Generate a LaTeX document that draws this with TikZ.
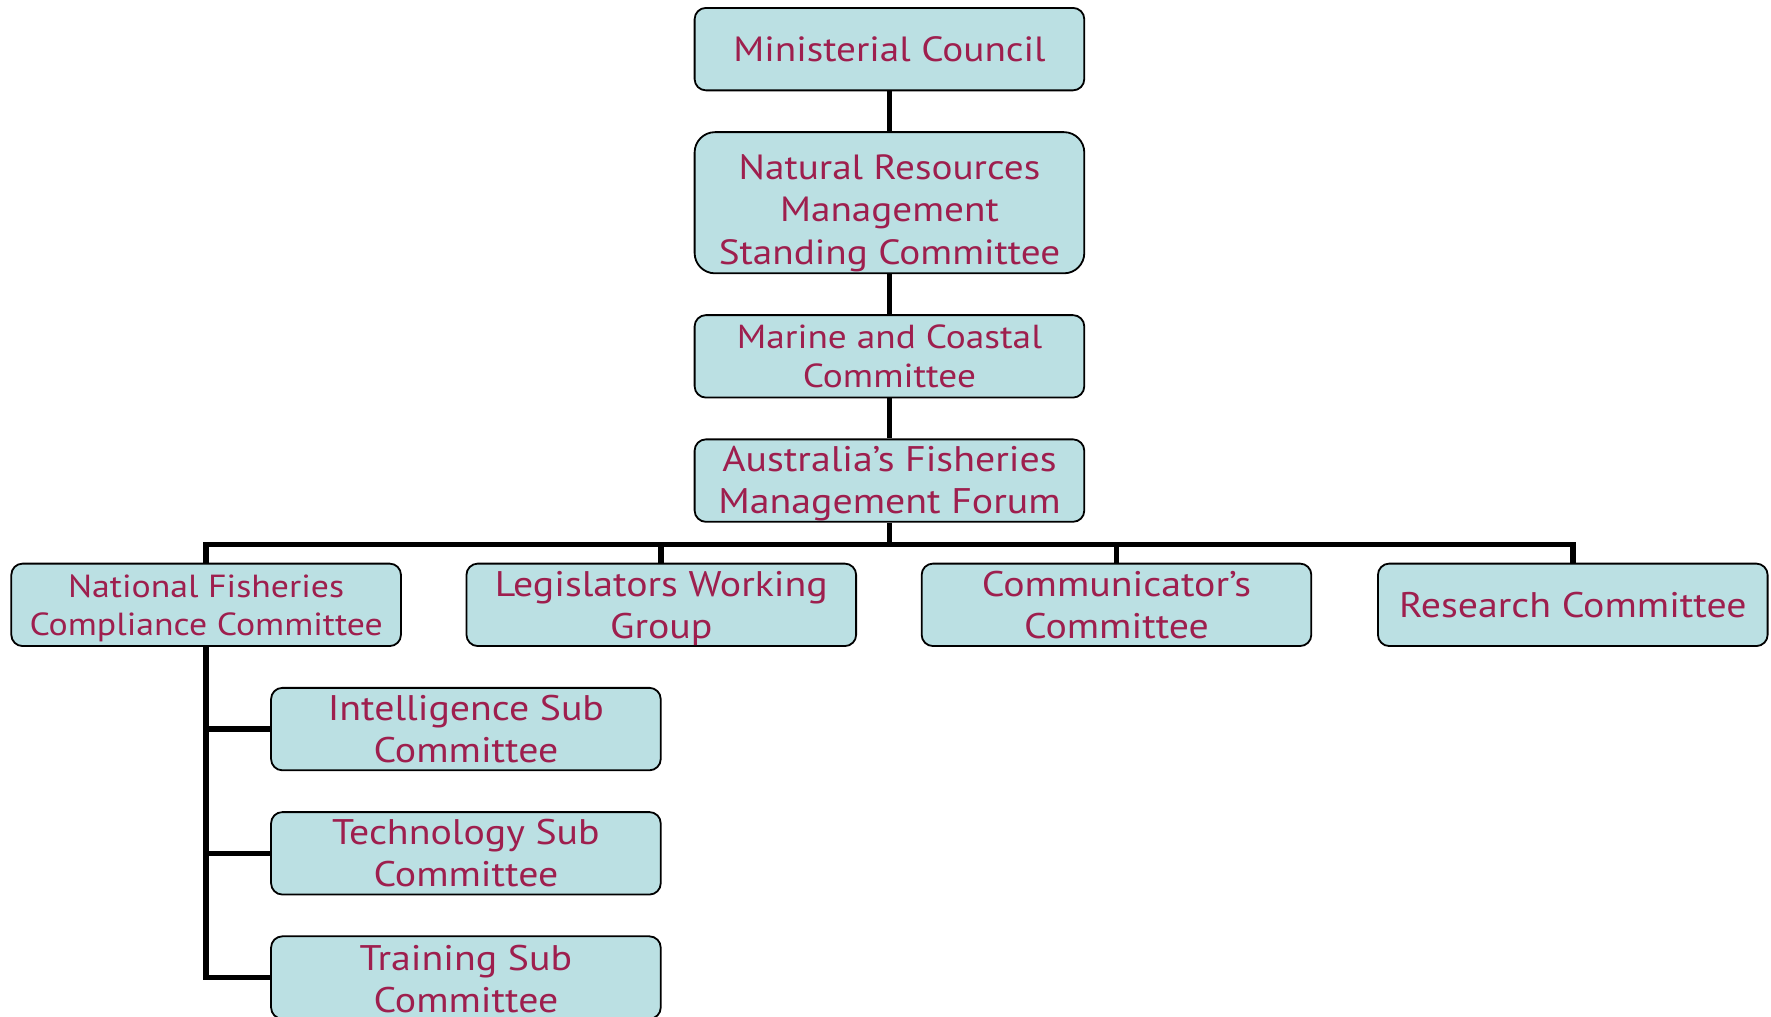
\documentclass[tikz,border=0pt]{standalone}
\usepackage{fontspec}
\setmainfont[FakeStretch=1.12]{PT Sans}
\definecolor{boxfill}{HTML}{BBE0E3}
\definecolor{boxtext}{HTML}{9E1F4E}
\begin{document}
\begin{tikzpicture}[x=1pt,y=-1pt,
  orgbox/.style={draw=black,line width=1.6pt,fill=boxfill,rounded corners=10pt,
    minimum width=345pt,minimum height=73pt,inner sep=0pt},
  orgtext/.style={text=boxtext,align=center,inner sep=0pt},
  link/.style={line width=5pt,draw=black}]
\useasboundingbox (0,0) rectangle (1568,900);

% top chain of committees
\node[orgbox] (mc) at (787.5,43.5) {};
\node[orgbox,minimum height=125pt,rounded corners=18pt] (nrm) at (787.5,179.5) {};
\node[orgbox] (mcc) at (787.5,315.5) {};
\node[orgbox] (afmf) at (787.5,425.5) {};

% second row
\node[orgbox] (nfcc) at (182.5,535.5) {};
\node[orgbox] (lwg) at (585.5,535.5) {};
\node[orgbox] (cc) at (988.5,535.5) {};
\node[orgbox] (rc) at (1392.5,535.5) {};

% sub committees
\node[orgbox] (intel) at (412.5,645.5) {};
\node[orgbox] (tech) at (412.5,755.5) {};
\node[orgbox] (train) at (412.5,865.5) {};

% labels
\node[orgtext,font=\fontsize{31}{38}\selectfont] at (mc) {Ministerial Council};
\node[orgtext,font=\fontsize{31}{37.5}\selectfont] at ([yshift=-9pt]nrm) {Natural Resources\\Management\\Standing Committee};
\node[orgtext,font=\fontsize{29.5}{34}\selectfont] at (mcc) {Marine and Coastal\\Committee};
\node[orgtext,font=\fontsize{31.5}{37}\selectfont] at ([yshift=-3pt]afmf) {Australia’s Fisheries\\Management Forum};
\node[orgtext,font=\fontsize{28.3}{33}\selectfont] at ([yshift=-3pt]nfcc) {National Fisheries\\Compliance Committee};
\node[orgtext,font=\fontsize{31.5}{37}\selectfont] at ([yshift=-3pt]lwg) {Legislators Working\\Group};
\node[orgtext,font=\fontsize{31.5}{37}\selectfont] at (cc) {Communicator’s\\Committee};
\node[orgtext,font=\fontsize{31.5}{37}\selectfont] at (rc) {Research Committee};
\node[orgtext,font=\fontsize{31.5}{37}\selectfont] at (intel) {Intelligence Sub\\Committee};
\node[orgtext,font=\fontsize{31.5}{37}\selectfont] at (tech) {Technology Sub\\Committee};
\node[orgtext,font=\fontsize{31.5}{37}\selectfont] at ([yshift=-1pt]train) {Training Sub\\Committee};

% connectors
\coordinate (bus) at (787.5,482);
\draw[link] (mc.south) -- (nrm.north);
\draw[link] (nrm.south) -- (mcc.north);
\draw[link] (mcc.south) -- (afmf.north);
\draw[link] (afmf.south) -- (bus);
\draw[link] (nfcc.north) -- (nfcc.north |- bus) -- (rc.north |- bus) -- (rc.north);
\draw[link] (lwg.north) -- (lwg.north |- bus);
\draw[link] (cc.north) -- (cc.north |- bus);
\draw[link] (nfcc.south) -- (nfcc.south |- train.west) -- (train.west);
\draw[link] (nfcc.south |- intel.west) -- (intel.west);
\draw[link] (nfcc.south |- tech.west) -- (tech.west);
\end{tikzpicture}
\end{document}
